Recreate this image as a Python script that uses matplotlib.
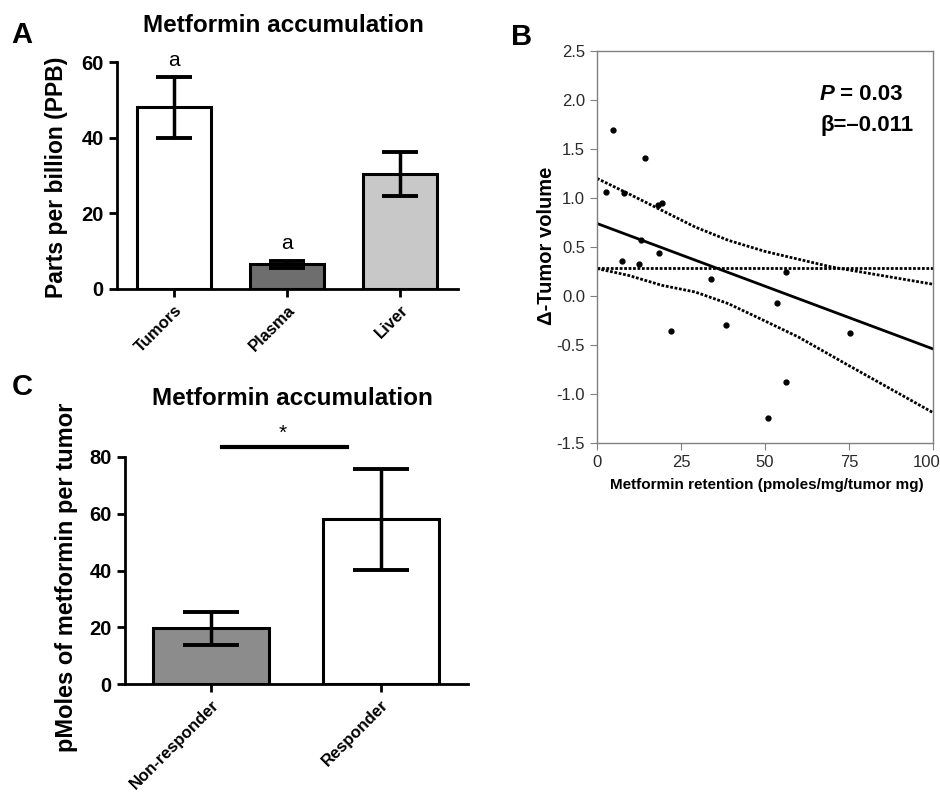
import matplotlib
matplotlib.use('Agg')
import matplotlib.pyplot as plt
import matplotlib.transforms as mtrans
import numpy as np

plt.rcParams['font.family'] = ['Liberation Sans', 'DejaVu Sans']

# panel A: metformin in tissues
organs = ['Tumors', 'Plasma', 'Liver']
ppb_mean = [48.0, 6.5, 30.5]
ppb_err = [8.0, 1.0, 5.8]
organ_colors = ['white', '#6e6e6e', '#c8c8c8']
organ_marks = ['a', 'a', '']

# panel B: retention vs change in tumor volume
retention = [2.7, 4.9, 8.0, 14.2, 18.3, 19.4, 13.0, 18.5, 7.3, 12.6,
             33.9, 56.2, 53.5, 21.9, 38.3, 75.4, 56.2, 51.0]
delta_vol = [1.06, 1.69, 1.055, 1.41, 0.93, 0.95, 0.57, 0.44, 0.357, 0.323,
             0.17, 0.242, -0.075, -0.36, -0.30, -0.377, -0.873, -1.248]
fit_x = [0, 100]
fit_y = [0.74, -0.54]
upper_x = [0, 9.3, 19.3, 29.2, 39.1, 50, 69.8, 100]
upper_y = [1.20, 1.045, 0.874, 0.704, 0.568, 0.455, 0.296, 0.12]
lower_x = [0, 9.3, 19.3, 29.2, 39.1, 50, 59.9, 74.8, 100]
lower_y = [0.28, 0.211, 0.109, 0.041, -0.078, -0.255, -0.418, -0.707, -1.19]
mean_y = 0.283

# panel C: responders
groups = ['Non-responder', 'Responder']
pm_mean = [19.6, 58.0]
pm_err = [5.9, 17.7]
group_colors = ['#8c8c8c', 'white']

W, H = 940, 794
fig = plt.figure(figsize=(9.4, 7.94), dpi=100)


def box(l, t, r, b):
    return [l / W, 1 - b / H, (r - l) / W, (b - t) / H]


def bar_style(ax):
    for s in ['top', 'right']:
        ax.spines[s].set_visible(False)
    for s in ['left', 'bottom']:
        ax.spines[s].set_linewidth(2)
    ax.tick_params(width=2, length=6, direction='out')
    ax.tick_params(axis='y', labelsize=14.5)
    ax.tick_params(axis='x', labelsize=12)
    for lab in ax.get_yticklabels():
        lab.set_fontweight('bold')
    for lab in ax.get_xticklabels():
        lab.set_fontweight('bold')
        lab.set_rotation(45)
        lab.set_ha('right')
        lab.set_rotation_mode('anchor')


# ---- A
axA = fig.add_axes(box(117, 62, 458, 289))
xa = np.arange(len(organs))
axA.bar(xa, ppb_mean, width=0.66, color=organ_colors, edgecolor='black', linewidth=2.2)
axA.errorbar(xa, ppb_mean, yerr=ppb_err, fmt='none', ecolor='black',
             elinewidth=2.5, capsize=13, capthick=2.8)
for x, m, e, t in zip(xa, ppb_mean, ppb_err, organ_marks):
    if t:
        axA.text(x, m + e + 4.5, t, ha='center', va='center', fontsize=15)
axA.set_xlim(-0.504, 2.513)
axA.set_ylim(0, 60)
axA.set_yticks([0, 20, 40, 60])
axA.set_xticks(xa)
axA.set_xticklabels(organs)
bar_style(axA)
fig.text(283 / W, 1 - 25 / H, 'Metformin accumulation', ha='center', va='center',
         fontsize=17.5, fontweight='bold')
fig.text(57 / W, 1 - 177 / H, 'Parts per billion (PPB)', rotation=90, ha='center',
         va='center', fontsize=16.5, fontweight='bold')
fig.text(22 / W, 1 - 35 / H, 'A', ha='center', va='center', fontsize=21, fontweight='bold')

# ---- C
axC = fig.add_axes(box(125, 457, 468, 684))
xc = np.arange(len(groups))
axC.bar(xc, pm_mean, width=0.68, color=group_colors, edgecolor='black', linewidth=2.2)
axC.errorbar(xc, pm_mean, yerr=pm_err, fmt='none', ecolor='black',
             elinewidth=2.5, capsize=20, capthick=2.8)
axC.plot([0.065, 0.8], [83.6, 83.6], color='black', lw=3, clip_on=False)
axC.text(0.42, 88.5, '*', ha='center', va='center', fontsize=15)
axC.set_xlim(-0.506, 1.512)
axC.set_ylim(0, 80)
axC.set_yticks([0, 20, 40, 60, 80])
axC.set_xticks(xc)
axC.set_xticklabels(groups)
bar_style(axC)
fig.text(292 / W, 1 - 398 / H, 'Metformin accumulation', ha='center', va='center',
         fontsize=17.5, fontweight='bold')
fig.text(67 / W, 1 - 577 / H, 'pMoles of metformin per tumor', rotation=90, ha='center',
         va='center', fontsize=17, fontweight='bold')
fig.text(22 / W, 1 - 387 / H, 'C', ha='center', va='center', fontsize=21, fontweight='bold')

# ---- B
axB = fig.add_axes(box(597, 51, 933, 443))
dots = (0, (1.0, 0.6))
axB.plot(upper_x, upper_y, color='black', lw=2, linestyle=dots)
axB.plot(lower_x, lower_y, color='black', lw=2, linestyle=dots)
axB.axhline(mean_y, color='black', lw=2, linestyle=dots)
axB.plot(fit_x, fit_y, color='black', lw=2)
axB.plot(retention, delta_vol, 'o', color='black', ms=3.5)
axB.set_xlim(0, 100)
axB.set_ylim(-1.5, 2.5)
axB.set_xticks([0, 25, 50, 75, 100])
axB.set_yticks(np.arange(-1.5, 2.51, 0.5))
axB.set_yticklabels(['%.1f' % v for v in np.arange(-1.5, 2.51, 0.5)])
for s in axB.spines.values():
    s.set_color('#808080')
    s.set_linewidth(1)
axB.tick_params(colors='#808080', labelcolor='#2a2a2a', labelsize=12, length=5)
# nudge the last x label so it stays inside the figure
last = axB.get_xticklabels()[-1]
last.set_transform(last.get_transform() + mtrans.ScaledTranslation(-6 / 100, 0, fig.dpi_scale_trans))

ptxt = axB.text(0.662, 0.89, 'P', transform=axB.transAxes, ha='left', va='center',
                fontsize=16, fontweight='bold', style='italic')
axB.annotate(' = 0.03', xy=(1, 0.5), xycoords=ptxt, ha='left', va='center',
             fontsize=16, fontweight='bold')
axB.text(0.664, 0.81, 'β=–0.011', transform=axB.transAxes, ha='left',
         va='center', fontsize=16, fontweight='bold')
fig.text(546 / W, 1 - 246 / H, 'Δ-Tumor volume', rotation=90, ha='center', va='center',
         fontsize=14.5, fontweight='bold')
fig.text(767 / W, 1 - 485 / H, 'Metformin retention (pmoles/mg/tumor mg)', ha='center',
         va='center', fontsize=11, fontweight='bold')
fig.text(522 / W, 1 - 37 / H, 'B', ha='center', va='center', fontsize=21, fontweight='bold')

fig.savefig('out.png', dpi=100)
